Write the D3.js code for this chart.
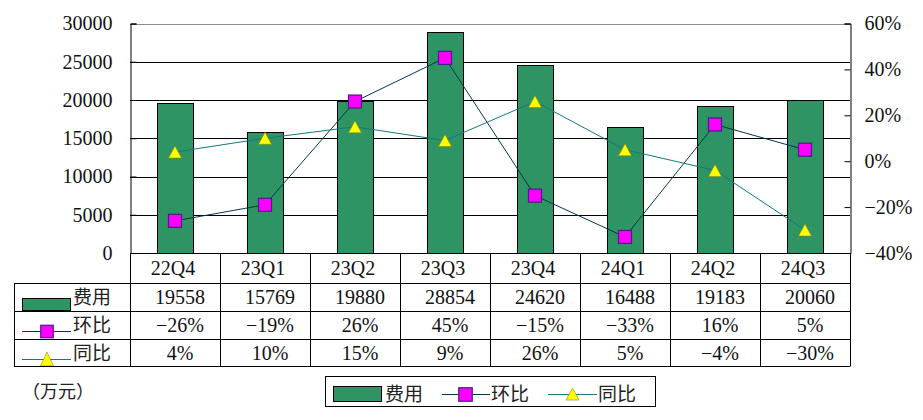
<!DOCTYPE html>
<html><head><meta charset="utf-8">
<script src="https://cdn.jsdelivr.net/npm/d3@7/dist/d3.min.js"></script>
<style>
html,body{margin:0;padding:0;background:#fff;}
svg text{font-family:"Times New Roman","Liberation Serif",Tinos,"DejaVu Serif",serif;fill:#111;}
svg text.cjk{font-family:"Noto Sans CJK SC","Noto Sans CJK JP",sans-serif;fill:#222;}
</style></head><body>
<svg id="c" width="923" height="420"></svg>
<script>
const categories = ["22Q4","23Q1","23Q2","23Q3","23Q4","24Q1","24Q2","24Q3"];
const costs = [19558, 15769, 19880, 28854, 24620, 16488, 19183, 20060];
const qoq = [-26, -19, 26, 45, -15, -33, 16, 5];
const yoy = [4, 10, 15, 9, 26, 5, -4, -30];
const leftTicks = [0, 5000, 10000, 15000, 20000, 25000, 30000];
const rightTicks = [-40, -20, 0, 20, 40, 60];
const seriesNames = ["费用", "环比", "同比"];
const unitLabel = "（万元）";

const barColor = "#2f9464", qoqLine = "#003a4d", yoyLine = "#107a80";
const sqFill = "#ff00ff", sqStroke = "#4b1a8c", triFill = "#ffff00", triStroke = "#8a8a00";
const serifFont = "'Times New Roman','Liberation Serif',Tinos,'DejaVu Serif',serif";

const svg = d3.select("#c");
svg.append("rect").attr("width",923).attr("height",420).attr("fill","#fff");

const L = 130, R = 850, T = 23.5, B = 253;
const x = d3.scaleBand().domain(categories).range([L, R]);
const y = d3.scaleLinear().domain([0, 30000]).range([B, T]);
const y2 = d3.scaleLinear().domain([-40, 60]).range([B, T]);
const pct = d3.format("d");

// gridlines
svg.append("g").selectAll("line").data(leftTicks.filter(d => d > 0)).join("line")
  .attr("x1", L).attr("x2", R)
  .attr("y1", d => Math.round(y(d)) + 0.5).attr("y2", d => Math.round(y(d)) + 0.5)
  .attr("stroke", d => d === 30000 ? "#8c8c8c" : "#000").attr("stroke-width", 1);

// bars
const bw = x.bandwidth() * 0.4;
svg.append("g").selectAll("rect").data(categories).join("rect")
  .attr("x", (c) => Math.round(x(c) + (x.bandwidth() - bw) / 2) + 0.5)
  .attr("y", (c, i) => Math.round(y(costs[i])) + 0.5)
  .attr("width", bw)
  .attr("height", (c, i) => Math.round(B) - Math.round(y(costs[i])))
  .attr("fill", barColor).attr("stroke", "#000").attr("stroke-width", 1);

// axes
const axL = svg.append("g").attr("transform", `translate(${L + 0.5},0)`)
  .call(d3.axisLeft(y).tickValues(leftTicks).tickSize(-6).tickPadding(18).tickFormat(d3.format("d")));
const axR = svg.append("g").attr("transform", `translate(${R + 0.5},0)`)
  .call(d3.axisRight(y2).tickValues(rightTicks).tickSize(-6).tickPadding(14).tickFormat(d => pct(d) + "%"));
[axL, axR].forEach(a => {
  a.attr("font-family", null);
  a.select(".domain").attr("stroke", "#000");
  a.selectAll(".tick line").attr("stroke", "#000");
  a.selectAll("text").attr("font-size", 20).attr("fill", "#111").style("font-family", serifFont);
});

// lines
const cx = c => x(c) + x.bandwidth() / 2;
const lineQ = d3.line().x((d, i) => cx(categories[i])).y(d => y2(d));
svg.append("path").datum(qoq).attr("d", lineQ).attr("fill", "none").attr("stroke", qoqLine).attr("stroke-width", 1);
svg.append("path").datum(yoy).attr("d", lineQ).attr("fill", "none").attr("stroke", yoyLine).attr("stroke-width", 1);

const sq = 13;
function square(g, cxv, cyv, s) {
  g.append("rect").attr("x", cxv - s / 2).attr("y", cyv - s / 2).attr("width", s).attr("height", s)
    .attr("fill", sqFill).attr("stroke", sqStroke).attr("stroke-width", 1.2);
}
function tri(g, cxv, cyv, w, h) {
  g.append("path").attr("d", `M${cxv},${cyv - h / 2}L${cxv + w / 2},${cyv + h / 2}L${cxv - w / 2},${cyv + h / 2}Z`)
    .attr("fill", triFill).attr("stroke", triStroke).attr("stroke-width", 0.6);
}
const mk = svg.append("g");
yoy.forEach((v, i) => tri(mk, cx(categories[i]), y2(v), 13, 12));
qoq.forEach((v, i) => square(mk, cx(categories[i]), y2(v), sq));

// data table
const tb = svg.append("g").attr("stroke", "#000").attr("stroke-width", 1);
tb.append("line").attr("x1", L).attr("x2", R).attr("y1", B + 0.5).attr("y2", B + 0.5);
[283, 311, 339, 366].forEach(yy => tb.append("line").attr("x1", 14).attr("x2", R).attr("y1", yy + 0.5).attr("y2", yy + 0.5));
tb.append("line").attr("x1", 14.5).attr("x2", 14.5).attr("y1", 283).attr("y2", 366.5);
categories.forEach(c => tb.append("line").attr("x1", Math.round(x(c)) + 0.5).attr("x2", Math.round(x(c)) + 0.5).attr("y1", B).attr("y2", 366.5));
tb.append("line").attr("x1", R + 0.5).attr("x2", R + 0.5).attr("y1", B).attr("y2", 366.5);

const txt = svg.append("g").attr("font-size", 20).attr("text-anchor", "middle");
categories.forEach((c, i) => {
  txt.append("text").attr("x", cx(c) - 2).attr("y", 268).attr("dy", "0.35em").text(c);
  txt.append("text").attr("x", cx(c) + 5).attr("y", 297).attr("dy", "0.35em").text(costs[i]);
  txt.append("text").attr("x", cx(c) + 5).attr("y", 325).attr("dy", "0.35em").text(pct(qoq[i]) + "%");
  txt.append("text").attr("x", cx(c) + 5).attr("y", 353).attr("dy", "0.35em").text(pct(yoy[i]) + "%");
});

// table legend keys
const tk = svg.append("g");
tk.append("rect").attr("x", 22.5).attr("y", 298.5).attr("width", 48).attr("height", 12).attr("fill", barColor).attr("stroke", "#000");
tk.append("line").attr("x1", 70.5).attr("x2", 70.5).attr("y1", 298).attr("y2", 311).attr("stroke", "#000");
tk.append("line").attr("x1", 22).attr("x2", 71).attr("y1", 331.5).attr("y2", 331.5).attr("stroke", qoqLine);
square(tk, 47, 331.5, 12.5);
svg.append("clipPath").attr("id", "rowclip").append("rect").attr("x", 14).attr("y", 339).attr("width", 120).attr("height", 27);
tk.append("line").attr("x1", 22).attr("x2", 71).attr("y1", 359.5).attr("y2", 359.5).attr("stroke", yoyLine);
const tg = tk.append("g").attr("clip-path", "url(#rowclip)");
tri(tg, 47, 359, 13, 14);
seriesNames.forEach((n, i) => {
  tk.append("text").attr("class", "cjk").attr("x", 73).attr("y", [297, 325, 353][i]).attr("dy", "0.35em")
    .attr("font-size", 19).text(n);
});

// unit
svg.append("text").attr("class", "cjk").attr("x", 22).attr("y", 392).attr("dy", "0.35em").attr("font-size", 18).text(unitLabel);

// bottom legend
const lg = svg.append("g");
lg.append("rect").attr("x", 325.5).attr("y", 376.5).attr("width", 330).attr("height", 30).attr("fill", "#fff").attr("stroke", "#000");
lg.append("rect").attr("x", 333.5).attr("y", 386.5).attr("width", 48).attr("height", 15).attr("fill", barColor).attr("stroke", "#000");
lg.append("line").attr("x1", 442).attr("x2", 490).attr("y1", 394.5).attr("y2", 394.5).attr("stroke", qoqLine);
square(lg, 465.5, 394.5, 13.5);
lg.append("line").attr("x1", 548).attr("x2", 597).attr("y1", 394.5).attr("y2", 394.5).attr("stroke", yoyLine);
tri(lg, 572.5, 394, 13, 12);
[[385, 0], [491, 1], [598, 2]].forEach(([xx, i]) => {
  lg.append("text").attr("class", "cjk").attr("x", xx).attr("y", 394).attr("dy", "0.35em").attr("font-size", 19).text(seriesNames[i]);
});
</script></body></html>
